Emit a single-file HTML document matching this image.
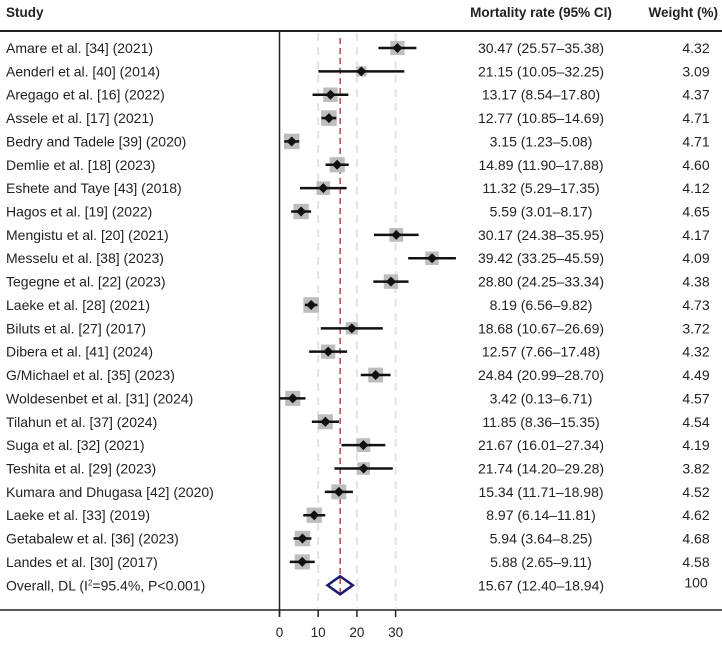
<!DOCTYPE html>
<html><head><meta charset="utf-8"><style>
body{margin:0;background:#fff;width:722px;height:645px;overflow:hidden}
svg text{font-family:"Liberation Sans",sans-serif;fill:#222}
</style></head><body>
<svg id="c" width="722" height="645" xmlns="http://www.w3.org/2000/svg"></svg>
<script>
const studies=["Amare et al. [34] (2021)","Aenderl et al. [40] (2014)","Aregago et al. [16] (2022)","Assele et al. [17] (2021)","Bedry and Tadele [39] (2020)","Demlie et al. [18] (2023)","Eshete and Taye [43] (2018)","Hagos et al. [19] (2022)","Mengistu et al. [20] (2021)","Messelu et al. [38] (2023)","Tegegne et al. [22] (2023)","Laeke et al. [28] (2021)","Biluts et al. [27] (2017)","Dibera et al. [41] (2024)","G/Michael et al. [35] (2023)","Woldesenbet et al. [31] (2024)","Tilahun et al. [37] (2024)","Suga et al. [32] (2021)","Teshita et al. [29] (2023)","Kumara and Dhugasa [42] (2020)","Laeke et al. [33] (2019)","Getabalew et al. [36] (2023)","Landes et al. [30] (2017)"];
const est=[30.47,21.15,13.17,12.77,3.15,14.89,11.32,5.59,30.17,39.42,28.80,8.19,18.68,12.57,24.84,3.42,11.85,21.67,21.74,15.34,8.97,5.94,5.88];
const lo=[25.57,10.05,8.54,10.85,1.23,11.90,5.29,3.01,24.38,33.25,24.25,6.56,10.67,7.66,20.99,0.13,8.36,16.01,14.20,11.71,6.14,3.64,2.65];
const hi=[35.38,32.25,17.80,14.69,5.08,17.88,17.35,8.17,35.95,45.59,33.34,9.82,26.69,17.48,28.70,6.71,15.35,27.34,29.28,18.98,11.81,8.25,9.11];
const weights=[4.32,3.09,4.37,4.71,4.71,4.60,4.12,4.65,4.17,4.09,4.38,4.73,3.72,4.32,4.49,4.57,4.54,4.19,3.82,4.52,4.62,4.68,4.58];
const overall=[15.67,12.40,18.94];
const ticks=[0,10,20,30];
const NS="http://www.w3.org/2000/svg",svg=document.getElementById('c');
const X=v=>279.5+v*3.87, Y=i=>48+i*23.36;
function el(t,a,txt){const e=document.createElementNS(NS,t);for(const k in a)e.setAttribute(k,a[k]);if(txt!=null)e.textContent=txt;svg.appendChild(e);return e;}
let e;
e=el('text',{x:6,y:17,'font-size':13.5,'font-weight':'bold'},'Study');

e=el('text',{x:541,y:17,'font-size':13.5,'font-weight':'bold','text-anchor':'middle'},'Mortality rate (95% CI)');

e=el('text',{x:718,y:17,'font-size':13.5,'font-weight':'bold','text-anchor':'end'},'Weight (%)');

e=el('line',{x1:0,x2:722,y1:31,y2:31,stroke:'#222','stroke-width':2});

ticks.slice(1).forEach(t=>{e=el('line',{x1:X(t),x2:X(t),y1:33,y2:608,stroke:'#e3e3e3','stroke-width':2,'stroke-dasharray':'8,6'});
});
e=el('line',{x1:X(overall[0]),x2:X(overall[0]),y1:38,y2:598,stroke:'#b04a4a','stroke-width':1.5,'stroke-dasharray':'6,4'});

e=el('line',{x1:279.5,x2:279.5,y1:31,y2:617,stroke:'#222','stroke-width':1.5});

e=el('line',{x1:0,x2:722,y1:610,y2:610,stroke:'#222','stroke-width':1.5});

ticks.forEach(t=>{e=el('line',{x1:X(t),x2:X(t),y1:610,y2:617,stroke:'#222','stroke-width':1.5});

e=el('text',{x:X(t),y:637,'font-size':13.5,'text-anchor':'middle'},t);
});
studies.forEach((s,i)=>{const y=Y(i);
e=el('text',{x:6,y:y+5,'font-size':14},s);

const sz=weights[i]*3.3;
e=el('rect',{x:X(est[i])-sz/2,y:y-sz/2,width:sz,height:sz,fill:'#bdbdbd'});

e=el('line',{x1:X(lo[i]),x2:X(hi[i]),y1:y,y2:y,stroke:'#111','stroke-width':2.5});

const cx=X(est[i]);
e=el('polygon',{points:`${cx-5},${y} ${cx},${y-5} ${cx+5},${y} ${cx},${y+5}`,fill:'#111'});

e=el('text',{x:541,y:y+5,'font-size':14,'text-anchor':'middle'},`${est[i].toFixed(2)} (${lo[i].toFixed(2)}–${hi[i].toFixed(2)})`);

e=el('text',{x:696,y:y+5,'font-size':14,'text-anchor':'middle'},weights[i].toFixed(2));

});
const oy=Y(23);
e=el('text',{x:6,y:oy+5,'font-size':14},'');
e.innerHTML='Overall, DL (I<tspan font-size="8" dy="-5">2</tspan><tspan dy="5">=95.4%, P&lt;0.001)</tspan>';

e=el('polygon',{points:`${X(overall[1])},${oy} ${X(overall[0])},${oy-9} ${X(overall[2])},${oy} ${X(overall[0])},${oy+9}`,fill:'none',stroke:'#1a1a6e','stroke-width':2.5});

e=el('text',{x:541,y:oy+5,'font-size':14,'text-anchor':'middle'},`${overall[0].toFixed(2)} (${overall[1].toFixed(2)}–${overall[2].toFixed(2)})`);

e=el('text',{x:696,y:oy+2,'font-size':14,'text-anchor':'middle'},'100');

</script>
</body></html>
